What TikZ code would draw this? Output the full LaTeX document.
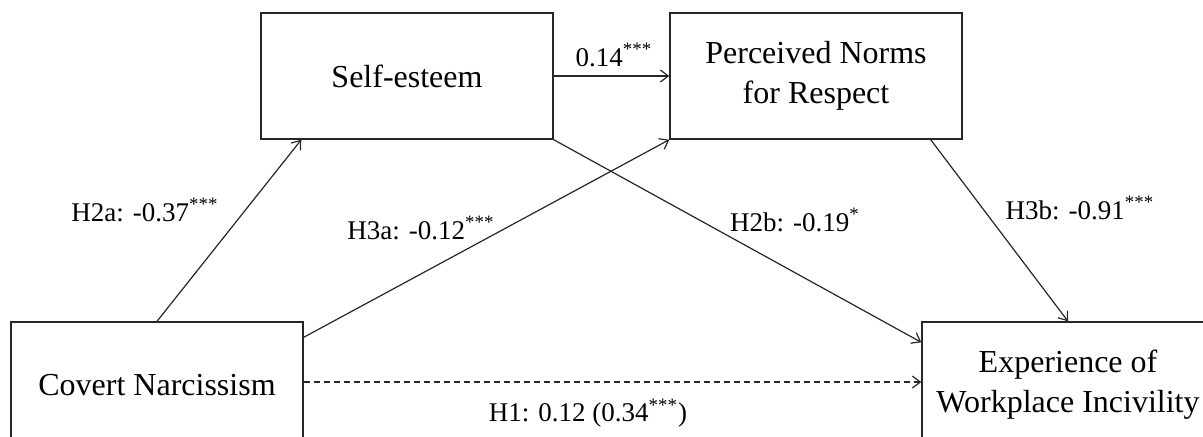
\documentclass[tikz,border=0pt]{standalone}
\usepackage{fontspec}
\setmainfont{Liberation Serif}
\usetikzlibrary{arrows.meta,calc}
\begin{document}
\begin{tikzpicture}[x=0.5pt,y=-0.5pt,
  box/.style={draw=black!85,line width=0.7pt,minimum width=146pt,minimum height=63pt,inner sep=0pt,align=center,font=\fontsize{16}{20}\selectfont},
  lbl/.style={inner sep=0pt,font=\fontsize{13.5}{16}\selectfont},
  conn/.style={draw=black!85,line width=0.6pt,-{Straight Barb[length=4pt,width=6pt]}}]
\clip (0,0) rectangle (1203,436);
\useasboundingbox (0,0) rectangle (1203,436);
\node[box] (self) at (407,76) {\raisebox{-1.5pt}{Self-esteem}};
\node[box] (norms) at (816,76) {\raisebox{-2pt}{Perceived Norms}\\\raisebox{-2pt}{for Respect}};
\node[box] (cov) at (157,385) {Covert Narcissism};
\node[box] (exp) at (1068,385) {Experience of\\Workplace Incivility};
\coordinate (h2aend) at ($(self.south west)+(41,0)$);
\coordinate (h3astart) at ($(cov.north east)+(0,16)$);
\coordinate (h2bend) at ($(exp.north west)+(0,21)$);
\coordinate (h3bstart) at ($(norms.south east)+(-32,0)$);
\coordinate (h1start) at ($(cov.east)+(0,-3)$);
\coordinate (h1end) at ($(exp.west)+(0,-3)$);
\draw[conn] (self.east) -- (norms.west);
\draw[conn] (cov.north) -- (h2aend);
\draw[conn] (h3astart) -- (norms.south west);
\draw[conn] (self.south east) -- (h2bend);
\draw[conn] (h3bstart) -- (exp.north);
\draw[conn,dash pattern=on 3pt off 2pt] (h1start) -- (h1end);
\node[lbl] (l014) at (614,55) {0.14\textsuperscript{***}};
\node[lbl] (lh2a) at (145,210) {H2a: -0.37\textsuperscript{***}};
\node[lbl] (lh3a) at (421,228) {H3a: -0.12\textsuperscript{***}};
\node[lbl] (lh2b) at (795,220) {H2b: -0.19\textsuperscript{*}};
\node[lbl] (lh3b) at (1080,208) {H3b: -0.91\textsuperscript{***}};
\node[lbl] (lh1) at (588,413) {H1: 0.12 (0.34\textsuperscript{***})};
\end{tikzpicture}
\end{document}
